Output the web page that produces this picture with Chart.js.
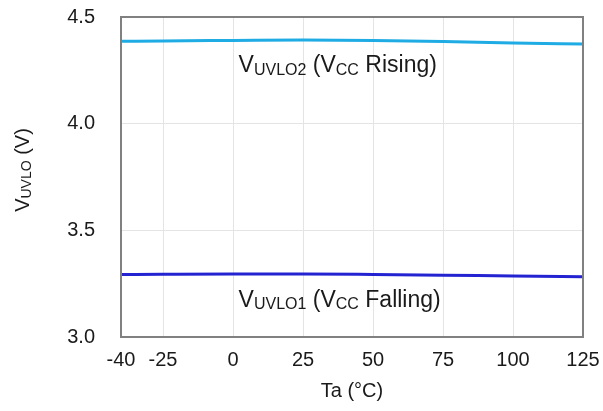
<!DOCTYPE html>
<html>
<head>
<meta charset="utf-8">
<script src="https://cdn.jsdelivr.net/npm/chart.js@4/dist/chart.umd.min.js"></script>
<style>
  html, body { margin: 0; padding: 0; background: #fff; }
  #wrap { width: 603px; height: 411px; }
</style>
</head>
<body>
<div id="wrap"><canvas id="uvlo-chart" width="603" height="411"></canvas></div>
<script>
const temps = [-40, -25, 0, 25, 50, 75, 100, 125];
const risingValues = [4.386, 4.388, 4.390, 4.392, 4.390, 4.385, 4.378, 4.373];
const fallingValues = [3.293, 3.294, 3.295, 3.295, 3.293, 3.290, 3.286, 3.283];
const xTickValues = [-40, -25, 0, 25, 50, 75, 100, 125];
const yTickValues = [3.0, 3.5, 4.0, 4.5];

const FONT = '"Liberation Sans", Arial, sans-serif';

// draws text pieces, some as subscripts
function drawRich(ctx, parts, x, y, size) {
    let cx = x;
    parts.forEach(p => {
        const s = p.sub ? Math.round(size * 0.68) : size;
        ctx.font = s + 'px ' + FONT;
        ctx.fillText(p.t, cx, y + (p.sub ? size * 0.12 : 0));
        cx += ctx.measureText(p.t).width;
    });
    return cx - x;
}

function richWidth(ctx, parts, size) {
    let w = 0;
    parts.forEach(p => {
        ctx.font = (p.sub ? Math.round(size * 0.68) : size) + 'px ' + FONT;
        w += ctx.measureText(p.t).width;
    });
    return w;
}

const labelsPlugin = {
    id: 'uvloLabels',
    afterDraw(chart) {
        const ctx = chart.ctx;
        const xs = chart.scales.x, ys = chart.scales.y;
        const a = chart.chartArea;
        ctx.save();
        // frame
        ctx.strokeStyle = '#808080';
        ctx.lineWidth = 2;
        ctx.strokeRect(a.left, a.top, a.right - a.left, a.bottom - a.top);

        ctx.fillStyle = '#1a1a1a';
        ctx.textBaseline = 'alphabetic';
        ctx.textAlign = 'left';
        drawRich(ctx, [{t: 'V'}, {t: 'UVLO2', sub: true}, {t: ' (V'}, {t: 'CC', sub: true}, {t: ' Rising)'}],
            xs.getPixelForValue(2), ys.getPixelForValue(4.242), 23);
        drawRich(ctx, [{t: 'V'}, {t: 'UVLO1', sub: true}, {t: ' (V'}, {t: 'CC', sub: true}, {t: ' Falling)'}],
            xs.getPixelForValue(2), ys.getPixelForValue(3.142), 23);

        // y axis title, rotated
        const yParts = [{t: 'V'}, {t: 'UVLO', sub: true}, {t: ' (V)'}];
        const w = richWidth(ctx, yParts, 20);
        ctx.translate(29, 170);
        ctx.rotate(-Math.PI / 2);
        drawRich(ctx, yParts, -w / 2, 0, 20);
        ctx.restore();
    }
};

new Chart(document.getElementById('uvlo-chart').getContext('2d'), {
    type: 'line',
    data: {
        datasets: [{
            label: 'VUVLO2 (VCC Rising)',
            data: temps.map((t, i) => ({x: t, y: risingValues[i]})),
            borderColor: '#1fabe3',
            borderWidth: 3,
            pointRadius: 0,
            cubicInterpolationMode: 'monotone',
            fill: false
        }, {
            label: 'VUVLO1 (VCC Falling)',
            data: temps.map((t, i) => ({x: t, y: fallingValues[i]})),
            borderColor: '#2323d2',
            borderWidth: 3,
            pointRadius: 0,
            cubicInterpolationMode: 'monotone',
            fill: false
        }]
    },
    options: {
        responsive: false,
        animation: false,
        layout: { padding: { left: 0, top: 0, right: 0, bottom: 0 } },
        plugins: {
            legend: { display: false },
            tooltip: { enabled: false }
        },
        scales: {
            x: {
                type: 'linear',
                min: -40,
                max: 125,
                afterBuildTicks: s => { s.ticks = xTickValues.map(v => ({value: v})); },
                afterFit: s => { s.height = 74; s.paddingRight = 20; s.paddingLeft = 0; },
                grid: { color: '#e4e4e4', lineWidth: 1, drawTicks: false },
                border: { display: false },
                ticks: { color: '#1a1a1a', font: { size: 20, family: FONT }, padding: 11, maxRotation: 0, autoSkip: false },
                title: { display: true, text: 'Ta (°C)', color: '#1a1a1a', font: { size: 20, family: FONT }, padding: { top: 0, bottom: 8 } }
            },
            y: {
                min: 3.0,
                max: 4.5,
                afterBuildTicks: s => { s.ticks = yTickValues.map(v => ({value: v})); },
                afterFit: s => { s.width = 121; s.paddingTop = 17; s.paddingBottom = 0; },
                grid: { color: '#e4e4e4', lineWidth: 1, drawTicks: false },
                border: { display: false },
                ticks: { color: '#1a1a1a', font: { size: 20, family: FONT }, padding: 26, callback: v => v.toFixed(1) }
            }
        }
    },
    plugins: [labelsPlugin]
});
</script>
</body>
</html>
